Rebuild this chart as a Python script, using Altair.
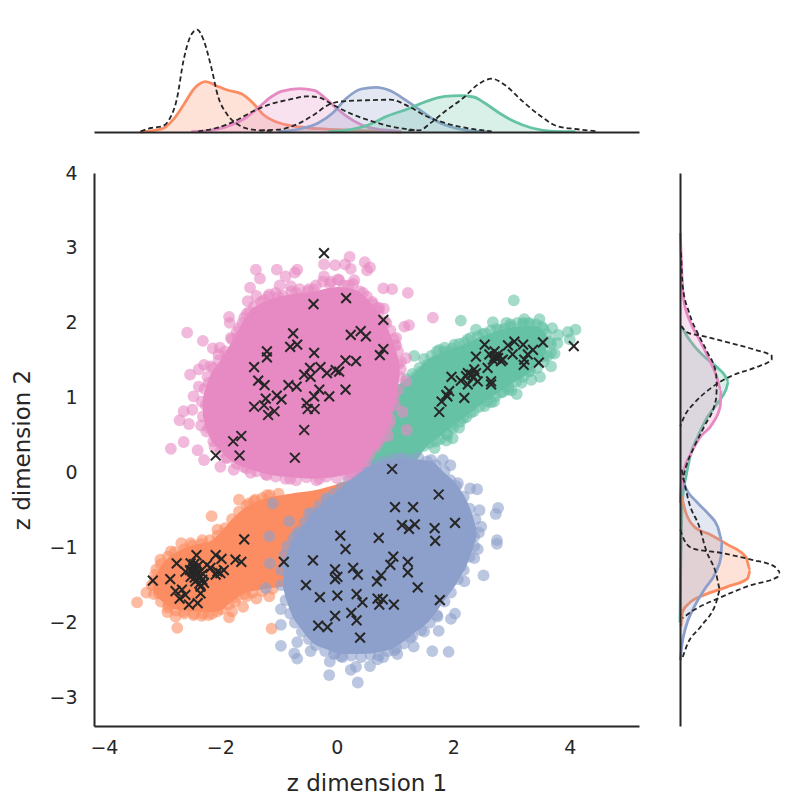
import altair as alt
import pandas as pd

GREEN = '#66c2a5'
ORANGE = '#fc8d62'
BLUE = '#8da0cb'
PINK = '#e78ac3'
DARK = '#262626'

X_DOMAIN = [-4.17, 5.19]
Y_DOMAIN = [-3.38, 4.0]

# marginal densities along z dimension 1
orange_top_x = [-3.37, -3.13, -2.97, -2.81, -2.63, -2.44, -2.25, -2.07, -1.88, -1.63, -1.44, -1.26, -1.07, -0.88, -0.64, -0.32, 0.30, 1.11]
orange_top_d = [0, 0.017, 0.04, 0.123, 0.273, 0.44, 0.503, 0.463, 0.42, 0.38, 0.29, 0.173, 0.107, 0.073, 0.05, 0.033, 0.017, 0]
pink_top_x = [-2.50, -2.19, -1.88, -1.57, -1.32, -1.13, -0.95, -0.64, -0.39, -0.20, -0.01, 0.17, 0.42, 0.67, 1.11]
pink_top_d = [0.003, 0.017, 0.057, 0.14, 0.257, 0.35, 0.407, 0.433, 0.417, 0.34, 0.24, 0.157, 0.073, 0.03, 0.007]
blue_top_x = [-1.01, -0.64, -0.32, -0.07, 0.17, 0.42, 0.67, 0.92, 1.17, 1.42, 1.67, 1.92, 2.23, 2.60]
blue_top_d = [0.003, 0.03, 0.09, 0.19, 0.34, 0.43, 0.447, 0.413, 0.323, 0.223, 0.123, 0.057, 0.017, 0.003]
green_top_x = [-0.14, 0.24, 0.55, 0.86, 1.23, 1.54, 1.86, 2.10, 2.35, 2.54, 2.79, 3.04, 3.35, 3.72, 4.10]
green_top_d = [0.003, 0.023, 0.073, 0.157, 0.233, 0.307, 0.357, 0.363, 0.35, 0.29, 0.19, 0.107, 0.04, 0.007, 0.003]

orange_top_dash_x = [-3.37, -3.19, -3.00, -2.88, -2.75, -2.63, -2.50, -2.40, -2.29, -2.16, -2.04, -1.88, -1.69, -1.44, -1.07]
orange_top_dash_d = [0.007, 0.04, 0.057, 0.123, 0.323, 0.723, 0.973, 1.023, 0.923, 0.657, 0.357, 0.173, 0.073, 0.023, 0.01]
pink_top_dash_x = [-2.38, -2.07, -1.76, -1.44, -1.13, -0.82, -0.51, -0.32, -0.07, 0.24, 0.55, 0.92, 1.36]
pink_top_dash_d = [0.007, 0.04, 0.107, 0.207, 0.28, 0.323, 0.357, 0.347, 0.273, 0.183, 0.117, 0.057, 0.017]
blue_top_dash_x = [-1.32, -1.01, -0.70, -0.39, -0.14, 0.11, 0.49, 0.92, 1.23, 1.54, 1.86, 2.23, 2.66]
blue_top_dash_d = [0.017, 0.023, 0.073, 0.173, 0.273, 0.307, 0.317, 0.323, 0.257, 0.157, 0.09, 0.04, 0.007]
green_top_dash_x = [1.23, 1.42, 1.61, 1.86, 2.17, 2.42, 2.66, 2.88, 3.16, 3.47, 3.79, 4.10, 4.47]
green_top_dash_d = [0.017, 0.017, 0.09, 0.207, 0.34, 0.473, 0.533, 0.473, 0.323, 0.173, 0.057, 0.03, 0.007]

# marginal densities along z dimension 2
green_side_y = [1.956, 1.844, 1.69, 1.55, 1.42, 1.31, 1.22, 1.11, 0.93, 0.75, 0.48, 0.26, -0.05, -0.29, -0.6, -1.3, -2.0]
green_side_d = [0.017, 0.06, 0.143, 0.243, 0.36, 0.443, 0.487, 0.46, 0.377, 0.277, 0.177, 0.11, 0.06, 0.03, 0.017, 0.007, 0]
pink_side_y = [3.2, 2.71, 2.31, 1.99, 1.78, 1.51, 1.31, 1.11, 0.89, 0.66, 0.46, 0.26, 0.06, -0.09, -0.4]
pink_side_d = [0.003, 0.017, 0.037, 0.11, 0.193, 0.293, 0.36, 0.41, 0.403, 0.327, 0.193, 0.11, 0.043, 0.017, 0.003]
orange_side_y = [-0.32, -0.54, -0.72, -0.83, -0.96, -1.13, -1.30, -1.41, -1.52, -1.63, -1.74, -1.85, -2.05]
orange_side_d = [0.017, 0.06, 0.143, 0.31, 0.477, 0.66, 0.703, 0.677, 0.477, 0.243, 0.093, 0.027, 0.01]
blue_side_y = [-0.05, -0.21, -0.38, -0.54, -0.72, -0.90, -1.12, -1.32, -1.56, -1.83, -2.05, -2.32, -2.50]
blue_side_d = [0.017, 0.06, 0.16, 0.277, 0.377, 0.42, 0.41, 0.36, 0.243, 0.127, 0.06, 0.017, 0.003]

green_side_dash_y = [1.96, 1.87, 1.83, 1.74, 1.64, 1.56, 1.51, 1.40, 1.29, 1.13, 0.93, 0.75, 0.62]
green_side_dash_d = [0.01, 0.077, 0.21, 0.477, 0.75, 0.917, 0.917, 0.743, 0.51, 0.31, 0.143, 0.043, 0.003]
pink_side_dash_y = [2.94, 2.49, 2.13, 1.82, 1.60, 1.33, 1.15, 0.98, 0.62, 0.35, 0.08, -0.09]
pink_side_dash_d = [0.01, 0.027, 0.093, 0.193, 0.277, 0.36, 0.37, 0.36, 0.243, 0.143, 0.06, 0.027]
blue_side_dash_y = [0.04, -0.41, -0.72, -1.03, -1.34, -1.56, -1.74, -2.05, -2.28, -2.50]
blue_side_dash_d = [0.017, 0.093, 0.193, 0.26, 0.36, 0.403, 0.36, 0.21, 0.077, 0.017]
orange_side_dash_y = [-0.76, -0.90, -1.01, -1.07, -1.16, -1.25, -1.32, -1.39, -1.50, -1.68, -1.83, -1.94]
orange_side_dash_d = [0.003, 0.043, 0.127, 0.41, 0.71, 0.943, 1.0, 0.977, 0.71, 0.377, 0.143, 0.027]

# dense middle of each cloud: x, lower and upper z dimension 2
orange_core_x = [-3.15, -3.0, -2.8, -2.5, -2.2, -2.0, -1.8, -1.6, -1.3, -0.8, -0.3, 0.2]
orange_core_lo = [-1.6, -1.72, -1.82, -1.85, -1.86, -1.84, -1.72, -1.62, -1.56, -1.5, -1.4, -0.9]
orange_core_hi = [-1.42, -1.22, -1.08, -0.97, -0.92, -0.8, -0.62, -0.48, -0.36, -0.28, -0.22, -0.1]
green_core_x = [0.41, 1.10, 1.3, 1.55, 1.8, 2.08, 2.5, 3.0, 3.4, 3.6]
green_core_lo = [-0.03, -0.03, 0.1, 0.35, 0.5, 0.67, 0.92, 1.18, 1.4, 1.6]
green_core_hi = [0.71, 1.2, 1.3, 1.5, 1.6, 1.68, 1.82, 1.94, 1.96, 1.84]
blue_core_x = [-0.92, -0.8, -0.6, -0.4, -0.2, 0.1, 0.4, 0.7, 1.0, 1.3, 1.6, 1.85, 2.1, 2.3, 2.4]
blue_core_lo = [-1.55, -1.85, -2.1, -2.28, -2.35, -2.42, -2.42, -2.4, -2.33, -2.16, -1.97, -1.7, -1.42, -1.1, -0.85]
blue_core_hi = [-1.25, -0.95, -0.72, -0.52, -0.38, -0.18, 0.02, 0.13, 0.18, 0.18, 0.16, 0.0, -0.2, -0.5, -0.75]
pink_core_x = [-2.3, -2.2, -2.0, -1.8, -1.5, -1.2, -0.8, -0.4, 0.0, 0.3, 0.55, 0.75, 0.9, 1.02, 1.08]
pink_core_lo = [0.75, 0.5, 0.3, 0.15, 0.05, -0.02, -0.06, -0.08, -0.05, 0.0, 0.2, 0.42, 0.68, 1.0, 1.3]
pink_core_hi = [1.0, 1.25, 1.5, 1.75, 2.15, 2.3, 2.38, 2.42, 2.48, 2.45, 2.3, 2.1, 1.88, 1.62, 1.45]

# scattered points round each cloud
orange_points = [
    (-3.43, -1.73), (-3.27, -1.60), (-2.91, -1.86), (-2.74, -2.07), (-2.77, -1.92), (-2.46, -1.90),
    (-2.32, -1.91), (-1.85, -1.93), (-1.80, -1.85), (-1.61, -1.79), (-1.38, -1.68), (-2.15, -0.58),
    (-2.67, -0.94), (-2.51, -0.94), (-3.03, -1.16), (-3.10, -1.29), (-1.68, -0.36), (-1.51, -0.41),
    (-1.12, -2.08), (-2.05, -0.76), (-2.31, -0.90), (-3.12, -1.43), (-3.06, -1.61), (-2.89, -1.76),
    (-2.63, -1.85), (-2.05, -1.85), (-1.16, -1.65), (-1.77, -0.72), (-1.90, -0.80), (-1.40, -0.36),
    (-1.20, -0.30), (-2.85, -1.05), (-1.55, -1.65), (-1.75, -1.72), (-2.20, -1.90), (-3.15, -1.50),
    (-3.18, -1.5), (-3.12, -1.36), (-3.14, -1.62), (-3.02, -1.22), (-3.02, -1.72), (-2.9, -1.12),
    (-2.9, -1.8), (-2.78, -1.06), (-2.76, -1.84), (-2.62, -1.02), (-2.62, -1.88), (-2.48, -0.97),
    (-2.45, -1.88), (-2.33, -0.95), (-2.3, -1.88), (-2.18, -0.9), (-2.14, -1.88), (-2.05, -0.84),
    (-1.98, -1.82), (-1.92, -0.74), (-1.86, -1.76), (-1.8, -0.62), (-1.72, -1.66), (-1.68, -0.52),
    (-1.58, -1.62), (-1.55, -0.44), (-1.45, -1.6), (-1.42, -0.38), (-1.28, -1.58), (-1.28, -0.34),
    (-1.15, -0.3), (-1.0, -0.28), (-1.1, -1.55),
]
green_points = [
    (3.04, 2.30), (2.13, 2.03), (2.68, 2.01), (2.91, 2.00), (3.22, 2.05), (3.48, 2.05), (3.70, 1.93),
    (3.80, 1.84), (3.97, 1.88), (4.10, 1.91), (4.00, 1.78), (3.79, 1.73), (3.74, 1.59), (3.68, 1.42),
    (3.49, 1.28), (3.17, 1.20), (3.09, 1.05), (2.94, 1.11), (2.65, 0.94), (2.39, 1.91), (2.25, 1.78),
    (2.02, 1.71), (1.76, 1.64), (1.85, 1.67), (1.55, 1.44), (1.33, 1.56), (1.36, 1.29), (1.99, 0.46),
    (1.88, 0.43), (2.17, 0.73), (1.68, 0.33), (3.20, 2.00), (3.45, 1.82), (3.62, 1.56), (3.34, 1.24),
    (2.82, 1.07), (2.54, 0.89), (2.30, 0.80), (1.96, 0.62), (2.50, 1.85), (2.80, 1.90), (3.00, 1.95),
    (3.30, 2.00), (3.55, 1.92), (3.65, 1.75), (3.55, 1.55), (3.30, 1.35), (3.00, 1.10), (2.70, 0.95),
    (2.10, 0.60), (1.90, 0.50), (1.70, 0.42), (1.95, 1.62), (1.70, 1.50), (1.45, 1.35), (1.25, 1.20),
    (1.2, 1.25), (1.3, 1.32), (1.42, 1.4), (1.5, 1.52), (1.62, 1.56), (1.72, 1.62), (1.85, 1.62),
    (1.98, 1.66), (2.1, 1.72), (2.2, 1.74), (2.3, 1.8), (2.42, 1.82), (2.55, 1.86), (2.65, 1.9),
    (2.75, 1.92), (2.88, 1.92), (2.98, 1.98), (3.1, 2.0), (3.2, 1.98), (3.32, 1.98), (3.42, 1.98),
    (3.52, 1.95), (3.6, 1.85), (3.68, 1.72), (3.68, 1.6), (1.5, 0.36), (1.6, 0.4), (1.78, 0.45),
    (1.88, 0.52), (2.0, 0.6), (2.12, 0.68), (2.22, 0.74), (2.35, 0.82), (2.45, 0.88), (2.58, 0.95),
    (2.72, 1.02), (2.85, 1.08), (2.95, 1.15), (3.08, 1.22), (3.2, 1.28), (3.32, 1.36), (3.44, 1.4),
    (3.55, 1.48),
]
blue_points = [
    (-0.13, -2.70), (0.36, -2.80), (0.24, -2.63), (0.33, -2.59), (-0.12, -2.52), (0.57, -2.58),
    (-0.68, -2.48), (-0.73, -2.41), (-0.96, -2.31), (-0.45, -2.38), (-0.03, -2.41), (0.07, -2.45),
    (0.70, -2.49), (0.80, -2.46), (1.04, -2.42), (1.32, -2.32), (1.64, -2.38), (1.92, -2.39),
    (1.50, -2.12), (1.75, -2.11), (1.26, -2.20), (2.52, -1.37), (2.77, -0.47), (2.73, -0.55),
    (2.75, -0.90), (2.75, -0.95), (2.48, -0.72), (2.45, -0.50), (2.41, -0.22), (2.29, -0.21),
    (1.95, 0.10), (1.82, 0.17), (2.36, -1.14), (2.42, -1.02), (2.19, -1.45), (2.03, -1.88),
    (1.96, -1.95), (-0.96, -1.82), (-1.16, -0.85), (-1.10, -0.41), (-0.82, -0.65), (-0.48, -0.54),
    (-0.96, -2.03), (-1.15, -1.21), (-1.22, -1.54), (-0.68, -2.26), (2.36, -0.85), (2.13, -1.25),
    (1.73, -1.92), (0.99, -2.37), (-0.28, -2.23), (-0.79, -1.65), (-0.88, -1.21), (-0.68, -0.81),
    (-0.16, -0.36), (0.41, 0.04), (1.10, 0.17), (1.62, 0.17), (2.08, -0.14),
    (-0.95, -1.3), (-0.95, -1.5), (-0.9, -1.1), (-0.88, -1.7), (-0.85, -0.98), (-0.8, -1.88), (-0.75, -0.88),
    (-0.72, -2.0), (-0.64, -0.78), (-0.6, -2.12), (-0.55, -0.66), (-0.48, -2.22), (-0.42, -0.54), (-0.36, -2.3),
    (-0.3, -0.44), (-0.2, -2.38), (-0.18, -0.34), (-0.05, -0.28), (-0.05, -2.42), (0.08, -0.2), (0.1, -2.46),
    (0.2, -0.1), (0.25, -2.44), (0.35, -0.02), (0.42, -2.46), (0.5, 0.06), (0.58, -2.43), (0.65, 0.1),
    (0.72, -2.44), (0.8, 0.15), (0.88, -2.38), (0.95, 0.18), (1.02, -2.34), (1.1, 0.2), (1.15, -2.28),
    (1.25, 0.18), (1.3, -2.18), (1.4, 0.2), (1.45, -2.1), (1.55, 0.15), (1.6, -2.0), (1.7, 0.1), (1.72, -1.9),
    (1.85, 0.02), (1.85, -1.72), (1.95, -0.1), (1.96, -1.6), (2.05, -0.18), (2.08, -1.42), (2.18, -0.32),
    (2.18, -1.3), (2.28, -0.48), (2.28, -1.12), (2.38, -0.62), (2.36, -0.98), (2.44, -0.8),
]
pink_points = [
    (-2.57, 1.87), (-2.30, 1.76), (-2.13, 1.66), (-2.01, 1.67), (-2.03, 1.58), (-2.52, 1.31), (-2.37, 1.38),
    (-2.28, 1.44), (-2.37, 1.15), (-2.46, 1.02), (-2.63, 0.82), (-2.70, 0.70), (-2.54, 0.65), (-2.33, 0.63),
    (-2.63, 0.41), (-2.85, 0.32), (-2.39, 0.30), (-2.28, 0.17), (-1.85, 2.08), (-1.84, 2.00), (-1.68, 1.93),
    (-1.59, 2.07), (-1.82, 1.80), (-1.39, 2.71), (-1.32, 2.59), (-1.03, 2.71), (-1.49, 2.47), (-0.88, 2.62),
    (-0.68, 2.71), (-0.72, 2.67), (-0.98, 2.50), (-0.79, 2.49), (-1.53, 2.29), (-1.38, 2.36), (-1.16, 2.38),
    (-0.22, 2.78), (-0.03, 2.77), (0.22, 2.88), (0.14, 2.78), (0.24, 2.72), (-0.22, 2.62), (0.48, 2.81),
    (0.57, 2.74), (0.52, 2.70), (0.80, 2.46), (0.95, 2.45), (1.22, 2.40), (-0.48, 2.45), (0.04, 2.57),
    (0.30, 2.57), (0.61, 2.28), (0.81, 2.19), (0.73, 2.20), (1.16, 1.95), (1.24, 1.97), (1.02, 1.80),
    (1.02, 1.70), (1.19, 1.53), (1.10, 1.38), (0.90, 0.65), (0.88, 0.49), (1.20, 0.57), (1.13, 0.81),
    (0.38, 0.08), (1.19, 1.22), (-2.20, 1.20), (-2.48, 0.84), (-2.17, 1.42), (-1.88, 1.56), (-2.00, 0.08),
    (-1.77, 0.04), (-1.48, 0.00), (1.65, 2.07), (-2.20, 0.60), (-2.25, 0.90), (-2.10, 1.20), (-1.90, 1.50),
    (-1.70, 1.80), (-1.50, 2.15), (-1.25, 2.30), (-1.00, 2.35), (-0.70, 2.40), (-0.40, 2.45), (-0.10, 2.55),
    (0.20, 2.50), (0.45, 2.40), (0.70, 2.20), (0.85, 2.00), (1.00, 1.70), (1.05, 1.45), (0.98, 1.00),
    (0.85, 0.70), (0.70, 0.40), (0.50, 0.15), (0.25, 0.00), (-0.30, -0.08), (-0.80, -0.08), (-1.20, -0.03),
    (-1.60, 0.08), (-1.90, 0.20), (-2.10, 0.35),
    (-2.32, 0.95), (-2.30, 0.75), (-2.27, 1.12), (-2.24, 0.55), (-2.22, 1.28), (-2.12, 0.42), (-2.12, 1.40),
    (-2.03, 1.5), (-2.0, 0.28), (-1.92, 1.62), (-1.88, 0.2), (-1.8, 1.78), (-1.72, 0.12), (-1.72, 1.88),
    (-1.62, 2.0), (-1.55, 0.06), (-1.55, 2.12), (-1.42, 2.22), (-1.38, 0.02), (-1.3, 2.28), (-1.22, -0.02),
    (-1.18, 2.35), (-1.05, -0.05), (-1.05, 2.4), (-0.92, 2.36), (-0.88, -0.08), (-0.78, 2.42), (-0.7, -0.1),
    (-0.64, 2.45), (-0.52, -0.06), (-0.5, 2.42), (-0.36, 2.5), (-0.35, -0.1), (-0.24, 2.55), (-0.18, -0.05),
    (-0.12, 2.52), (0.0, -0.07), (0.02, 2.58), (0.12, 2.5), (0.18, -0.03), (0.28, 2.52), (0.32, 0.05),
    (0.4, 2.42), (0.44, 0.14), (0.52, 2.35), (0.56, 0.24), (0.62, 2.25), (0.66, 0.34), (0.72, 2.15),
    (0.76, 0.46), (0.82, 2.02), (0.84, 0.58), (0.92, 1.9), (0.92, 0.72), (0.98, 1.78), (1.0, 0.9),
    (1.05, 1.62), (1.05, 1.1), (1.1, 1.48), (1.08, 1.28),
]

# black crosses
pink_crosses = [
    (-0.22, 2.93), (-0.40, 2.25), (0.16, 2.33), (0.80, 2.04), (-0.75, 1.86), (0.24, 1.84), (0.41, 1.89),
    (0.50, 1.82), (-0.80, 1.68), (-0.68, 1.71), (-1.20, 1.62), (-1.20, 1.54), (-0.39, 1.60), (0.80, 1.65),
    (0.74, 1.57), (-1.42, 1.41), (0.15, 1.50), (0.33, 1.49), (-0.46, 1.40), (-0.28, 1.41), (-0.56, 1.31),
    (-0.45, 1.28), (-0.17, 1.33), (-0.02, 1.37), (0.04, 1.35), (-1.35, 1.23), (-1.24, 1.17), (-0.83, 1.17),
    (-0.69, 1.15), (-0.30, 1.11), (0.15, 1.11), (-0.39, 1.02), (-0.13, 1.02), (-1.03, 1.03), (-0.95, 0.98),
    (-1.22, 0.99), (-1.25, 0.90), (-1.42, 0.88), (-0.52, 0.93), (-0.50, 0.85), (-0.38, 0.85), (-1.07, 0.82),
    (-1.18, 0.77), (-0.56, 0.57), (-1.64, 0.49), (-1.78, 0.42), (-2.08, 0.23), (-1.67, 0.23), (-0.72, 0.20),
]
green_crosses = [
    (4.07, 1.69), (3.54, 1.74), (2.54, 1.71), (2.94, 1.70), (3.05, 1.75), (3.20, 1.71), (3.37, 1.64),
    (3.28, 1.58), (3.02, 1.58), (2.39, 1.55), (3.22, 1.51), (3.47, 1.47), (3.21, 1.44), (2.71, 1.62),
    (2.62, 1.58), (2.74, 1.53), (2.71, 1.55), (2.82, 1.49), (2.77, 1.58), (2.59, 1.40), (2.36, 1.38),
    (2.25, 1.33), (2.42, 1.22), (1.97, 1.28), (2.13, 1.23), (2.34, 1.27), (2.25, 1.18), (2.65, 1.22),
    (2.65, 1.18), (1.93, 1.09), (1.90, 1.02), (2.19, 1.00), (1.80, 0.95), (1.76, 0.81), (1.88, 1.04),
    (2.77, 1.53), (2.68, 1.51), (2.85, 1.51), (2.31, 1.31), (2.22, 1.29), (2.39, 1.33),
]
orange_crosses = [
    (-1.59, -0.89), (-1.74, -1.16), (-1.64, -1.19), (-2.08, -1.10), (-1.98, -1.15), (-2.41, -1.10),
    (-2.75, -1.21), (-3.16, -1.44), (-2.86, -1.42), (-2.77, -1.58), (-2.70, -1.68), (-2.54, -1.76),
    (-2.39, -1.74), (-2.66, -1.56), (-2.60, -1.63), (-2.34, -1.61), (-2.51, -1.21), (-2.46, -1.27),
    (-2.40, -1.36), (-2.31, -1.43), (-2.51, -1.39), (-2.43, -1.45), (-2.34, -1.52), (-2.28, -1.47),
    (-2.60, -1.32), (-2.48, -1.32), (-2.37, -1.41), (-2.23, -1.23), (-2.17, -1.27), (-2.05, -1.32),
    (-1.94, -1.30), (-2.08, -1.36), (-2.00, -1.34), (-2.45, -1.22), (-2.42, -1.30), (-2.38, -1.24),
    (-2.52, -1.30), (-2.35, -1.38), (-2.44, -1.40), (-2.30, -1.35), (-2.40, -1.33), (-2.36, -1.48),
]
blue_crosses = [
    (0.95, 0.05), (1.75, -0.29), (1.00, -0.46), (1.31, -0.46), (1.12, -0.70), (1.24, -0.75), (1.34, -0.69),
    (1.68, -0.74), (2.03, -0.67), (1.69, -0.91), (0.06, -0.84), (0.72, -0.87), (0.15, -1.02), (0.97, -1.12),
    (-0.91, -1.19), (-0.41, -1.17), (1.22, -1.19), (0.92, -1.23), (-0.03, -1.29), (0.28, -1.27), (0.36, -1.36),
    (0.01, -1.39), (-0.03, -1.42), (0.76, -1.37), (1.22, -1.33), (0.69, -1.45), (-0.53, -1.50), (1.39, -1.53),
    (0.34, -1.62), (0.01, -1.64), (-0.29, -1.66), (0.70, -1.68), (0.79, -1.69), (0.73, -1.76), (0.44, -1.73),
    (0.98, -1.76), (1.77, -1.70), (0.25, -1.87), (-0.03, -1.91), (0.34, -1.97), (-0.32, -2.04), (-0.16, -2.06),
    (0.40, -2.20),
]

x_scale = alt.Scale(domain=X_DOMAIN, nice=False, zero=False)
y_scale = alt.Scale(domain=Y_DOMAIN, nice=False, zero=False)
top_scale = alt.Scale(domain=[0, 1.12], nice=False)
side_scale = alt.Scale(domain=[0, 1.12], nice=False)
hidden_line = alt.Axis(labels=False, ticks=False, title=None, grid=False, domain=True, domainWidth=2,
                       domainColor=DARK, zindex=1)


def cloud(core_x, core_lo, core_hi, points, color):
    core = pd.DataFrame({'x': core_x, 'lo': core_lo, 'hi': core_hi})
    scatter = pd.DataFrame(points, columns=['x', 'y'])
    area = alt.Chart(core).mark_area(color=color, opacity=1, interpolate='monotone').encode(
        x=alt.X('x:Q', scale=x_scale),
        y=alt.Y('lo:Q', scale=y_scale),
        y2='hi:Q',
    )
    dots = alt.Chart(scatter).mark_circle(color=color, opacity=0.6, size=140).encode(
        x=alt.X('x:Q', scale=x_scale),
        y=alt.Y('y:Q', scale=y_scale),
    )
    return area + dots


def top_curve(xs, ds, color):
    data = pd.DataFrame({'x': xs, 'd': ds})
    base = alt.Chart(data).encode(
        x=alt.X('x:Q', scale=x_scale, axis=hidden_line),
        y=alt.Y('d:Q', scale=top_scale, axis=None),
    )
    return base.mark_area(color=color, opacity=0.25, interpolate='monotone') + \
        base.mark_line(color=color, strokeWidth=2.8, interpolate='monotone')


def top_dash(xs, ds):
    data = pd.DataFrame({'x': xs, 'd': ds})
    return alt.Chart(data).mark_line(color=DARK, strokeWidth=1.8, strokeDash=[5, 3], interpolate='monotone').encode(
        x=alt.X('x:Q', scale=x_scale, axis=hidden_line),
        y=alt.Y('d:Q', scale=top_scale, axis=None),
    )


def side_curve(ys, ds, color):
    data = pd.DataFrame({'y': ys, 'd': ds})
    base = alt.Chart(data).encode(
        y=alt.Y('y:Q', scale=y_scale, axis=hidden_line),
        x=alt.X('d:Q', scale=side_scale, axis=None),
    )
    return base.mark_area(color=color, opacity=0.25, interpolate='monotone', orient='horizontal') + \
        base.mark_line(color=color, strokeWidth=2.8, interpolate='monotone', orient='horizontal')


def side_dash(ys, ds):
    data = pd.DataFrame({'y': ys, 'd': ds})
    return alt.Chart(data).mark_line(color=DARK, strokeWidth=1.8, strokeDash=[5, 3], interpolate='monotone',
                                     orient='horizontal').encode(
        y=alt.Y('y:Q', scale=y_scale, axis=hidden_line),
        x=alt.X('d:Q', scale=side_scale, axis=None),
    )


crosses = pd.DataFrame(pink_crosses + green_crosses + orange_crosses + blue_crosses, columns=['x', 'y'])
cross_layer = alt.Chart(crosses).mark_point(
    shape='M-1,-1L1,1M-1,1L1,-1', color=DARK, filled=False, strokeWidth=2, size=95, opacity=1
).encode(
    x=alt.X('x:Q', scale=x_scale, title='z dimension 1',
            axis=alt.Axis(values=[-4, -2, 0, 2, 4], format='d', ticks=False, grid=False, labelFontSize=19, titleFontSize=23,
                          labelColor=DARK, titleColor=DARK, domainColor=DARK, domainWidth=2, labelPadding=12,
                          titlePadding=15, titleFontWeight='normal', labelFont='DejaVu Sans', titleFont='DejaVu Sans')),
    y=alt.Y('y:Q', scale=y_scale, title='z dimension 2',
            axis=alt.Axis(values=[-3, -2, -1, 0, 1, 2, 3, 4], format='d', ticks=False, grid=False, labelFontSize=19, titleFontSize=23,
                          labelColor=DARK, titleColor=DARK, domainColor=DARK, domainWidth=2, labelPadding=17,
                          titlePadding=14, titleFontWeight='normal', labelFont='DejaVu Sans', titleFont='DejaVu Sans')),
)

main = alt.layer(
    cross_layer.mark_point(opacity=0),
    cloud(orange_core_x, orange_core_lo, orange_core_hi, orange_points, ORANGE),
    cloud(green_core_x, green_core_lo, green_core_hi, green_points, GREEN),
    cloud(blue_core_x, blue_core_lo, blue_core_hi, blue_points, BLUE),
    cloud(pink_core_x, pink_core_lo, pink_core_hi, pink_points, PINK),
    cross_layer,
).properties(width=545, height=553)

top = alt.layer(
    top_curve(orange_top_x, orange_top_d, ORANGE),
    top_curve(pink_top_x, pink_top_d, PINK),
    top_curve(blue_top_x, blue_top_d, BLUE),
    top_curve(green_top_x, green_top_d, GREEN),
    top_dash(orange_top_dash_x, orange_top_dash_d),
    top_dash(pink_top_dash_x, pink_top_dash_d),
    top_dash(blue_top_dash_x, blue_top_dash_d),
    top_dash(green_top_dash_x, green_top_dash_d),
).properties(width=545, height=112)

side = alt.layer(
    side_curve(green_side_y, green_side_d, GREEN),
    side_curve(orange_side_y, orange_side_d, ORANGE),
    side_curve(blue_side_y, blue_side_d, BLUE),
    side_curve(pink_side_y, pink_side_d, PINK),
    side_dash(green_side_dash_y, green_side_dash_d),
    side_dash(pink_side_dash_y, pink_side_dash_d),
    side_dash(blue_side_dash_y, blue_side_dash_d),
    side_dash(orange_side_dash_y, orange_side_dash_d),
).properties(width=112, height=553)

lower = alt.hconcat(main, side, spacing=41, bounds='flush')
chart = alt.vconcat(top, lower, spacing=41, bounds='flush').properties(
    padding={'left': 3, 'top': 12, 'right': 0, 'bottom': 0}
).configure_view(stroke=None).configure_axis(grid=False)

chart.save("out.html", embed_options={"renderer": "svg", "actions": False})
